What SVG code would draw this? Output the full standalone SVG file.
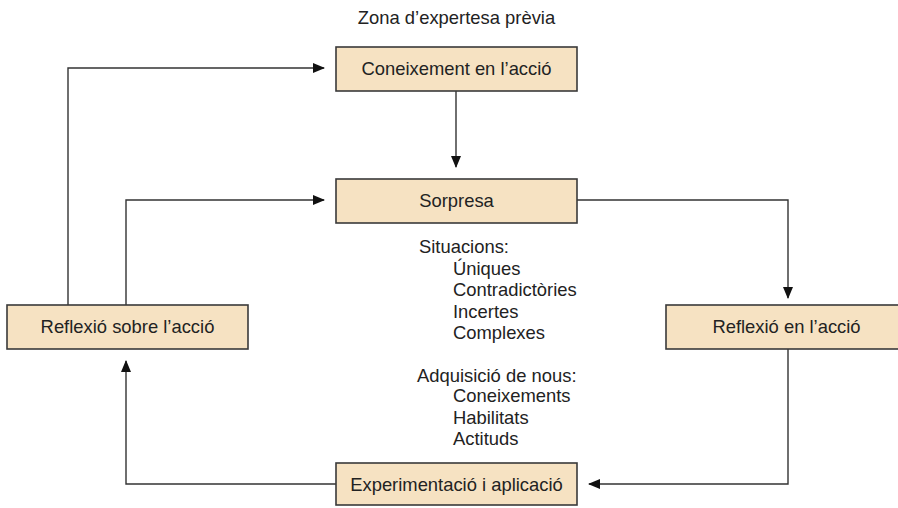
<svg xmlns="http://www.w3.org/2000/svg" width="898" height="508" viewBox="0 0 898 508">
<style>
.box{fill:#f6e2c2;stroke:#3a3a3a;stroke-width:1.6}
.t{font-family:"Liberation Sans",Arial,sans-serif;font-size:18.4px;fill:#222}
.c{text-anchor:middle}
.ln{fill:none;stroke:#333;stroke-width:1.4}
</style>
<defs>
<marker id="ah" markerWidth="12" markerHeight="12" viewBox="0 0 12 12" refX="11" refY="6" orient="auto" markerUnits="userSpaceOnUse">
<path d="M0,1 L12,6 L0,11 Z" fill="#111"/>
</marker>
</defs>
<rect width="898" height="508" fill="#fff"/>
<text class="t c" x="456.5" y="24">Zona d’expertesa prèvia</text>
<g id="connectors">
<path class="ln" d="M68,305 V68 H324" marker-end="url(#ah)"/>
<path class="ln" d="M126,305 V200 H324" marker-end="url(#ah)"/>
<path class="ln" d="M456,91 V167" marker-end="url(#ah)"/>
<path class="ln" d="M577,200 H788 V298" marker-end="url(#ah)"/>
<path class="ln" d="M788,349 V484 H589" marker-end="url(#ah)"/>
<path class="ln" d="M336,484 H126 V361" marker-end="url(#ah)"/>
</g>
<g id="coneixement">
<rect class="box" x="336" y="47" width="241" height="44"/>
<text class="t c" x="456.5" y="75">Coneixement en l’acció</text>
</g>
<g id="sorpresa">
<rect class="box" x="336" y="179" width="241" height="44"/>
<text class="t c" x="456.5" y="207">Sorpresa</text>
</g>
<g id="reflexio-sobre">
<rect class="box" x="7" y="305" width="241" height="44"/>
<text class="t c" x="127.5" y="333">Reflexió sobre l’acció</text>
</g>
<g id="reflexio-en">
<rect class="box" x="666" y="305" width="241" height="44"/>
<text class="t c" x="786.5" y="333">Reflexió en l’acció</text>
</g>
<g id="experimentacio">
<rect class="box" x="336" y="463" width="241" height="42"/>
<text class="t c" x="456.5" y="491">Experimentació i aplicació</text>
</g>
<g id="notes">
<text class="t" x="419" y="252.5">Situacions:</text>
<text class="t" x="453" y="274.5">Úniques</text>
<text class="t" x="453" y="296">Contradictòries</text>
<text class="t" x="453" y="317.5">Incertes</text>
<text class="t" x="453" y="339">Complexes</text>
<text class="t" x="417" y="382">Adquisició de nous:</text>
<text class="t" x="453" y="402">Coneixements</text>
<text class="t" x="453" y="423.5">Habilitats</text>
<text class="t" x="453" y="444.5">Actituds</text>
</g>
</svg>
